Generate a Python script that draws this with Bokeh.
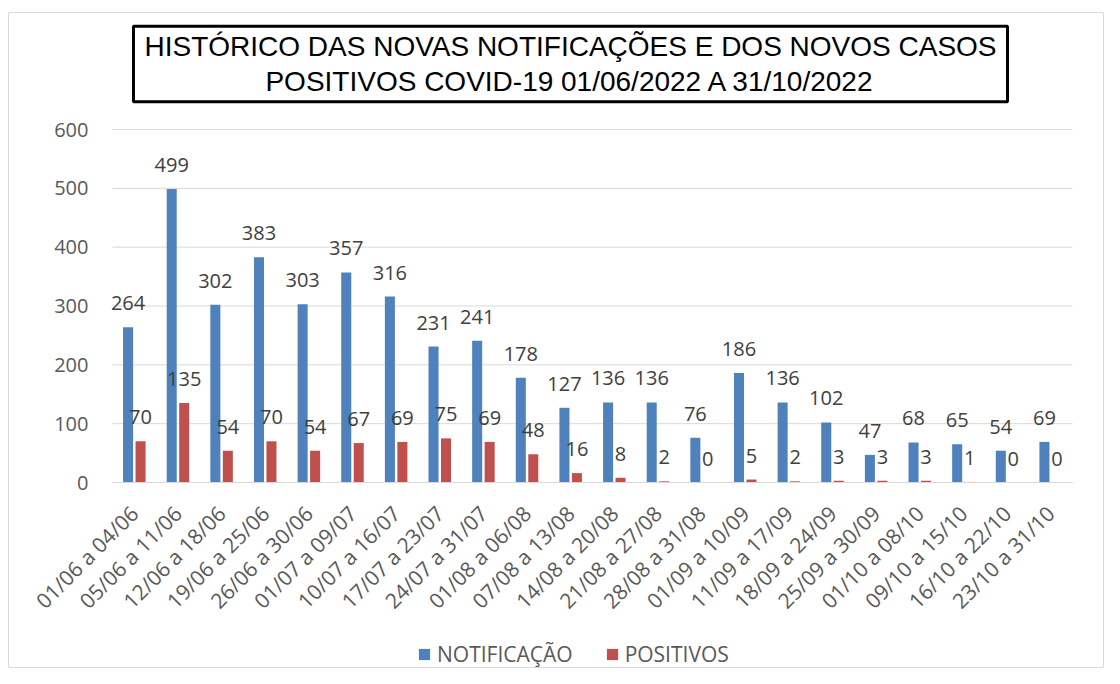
from bokeh.plotting import figure
from bokeh.models import (ColumnDataSource, Range1d, FixedTicker, LabelSet,
                          Label, Legend, LegendItem)
from bokeh.core.properties import value
from bokeh.transform import dodge
from bokeh.embed import file_html
from bokeh.resources import INLINE
import math

categories = ["01/06 a 04/06", "05/06 a 11/06", "12/06 a 18/06", "19/06 a 25/06",
              "26/06 a 30/06", "01/07 a 09/07", "10/07 a 16/07", "17/07 a 23/07",
              "24/07 a 31/07", "01/08 a 06/08", "07/08 a 13/08", "14/08 a 20/08",
              "21/08 a 27/08", "28/08 a 31/08", "01/09 a 10/09", "11/09 a 17/09",
              "18/09 a 24/09", "25/09 a 30/09", "01/10 a 08/10", "09/10 a 15/10",
              "16/10 a 22/10", "23/10 a 31/10"]
notificacao = [264, 499, 302, 383, 303, 357, 316, 231, 241, 178, 127, 136, 136, 76,
               186, 136, 102, 47, 68, 65, 54, 69]
positivos = [70, 135, 54, 70, 54, 67, 69, 75, 69, 48, 16, 8, 2, 0,
             5, 2, 3, 3, 3, 1, 0, 0]
y_ticks = [0, 100, 200, 300, 400, 500, 600]
title_text = "HISTÓRICO DAS NOVAS NOTIFICAÇÕES E DOS NOVOS CASOS\nPOSITIVOS COVID-19 01/06/2022 A 31/10/2022"

BLUE = "#4F81BD"
RED = "#C0504D"
FONT = "Open Sans"

# layout in pixels
W, H = 1104, 668
FRAME_L, FRAME_R, FRAME_T, FRAME_B = 8, W, 12, H
PLOT_L, PLOT_R = 112, 1072
Y600_PX, Y0_PX = 129, 482

n = len(categories)
idx = list(range(n))
cat_px = (PLOT_R - PLOT_L) / n
x_start = -0.5 - (PLOT_L - FRAME_L) / cat_px
x_end = (n - 0.5) + (FRAME_R - PLOT_R) / cat_px
px_per_unit = (Y0_PX - Y600_PX) / max(y_ticks)
y_max = (Y0_PX - FRAME_T) / px_per_unit
y_min = -(FRAME_B - Y0_PX) / px_per_unit

src = ColumnDataSource(dict(
    idx=idx,
    notif=notificacao,
    pos=positivos,
    notif_txt=[str(v) for v in notificacao],
    pos_txt=[str(v) for v in positivos],
))

p = figure(x_range=Range1d(x_start, x_end), y_range=Range1d(y_min, y_max),
           width=W, height=H, output_backend="svg", toolbar_location=None,
           min_border_left=FRAME_L, min_border_right=W - FRAME_R,
           min_border_top=FRAME_T, min_border_bottom=H - FRAME_B)

# horizontal gridlines over the category area
p.segment(x0=-0.5, x1=n - 0.5, y0=y_ticks, y1=y_ticks, line_color="#d9d9d9",
          line_width=1)

off = 0.143
bw = 0.23
r1 = p.vbar(x=dodge("idx", -off), top="notif", width=bw, source=src,
            fill_color=BLUE, line_color=None)
r2 = p.vbar(x=dodge("idx", off), top="pos", width=bw, source=src,
            fill_color=RED, line_color=None)

for col, txt, o in (("notif", "notif_txt", -off), ("pos", "pos_txt", off)):
    ls = LabelSet(x=dodge("idx", o), y=col, text=txt, source=src,
                  text_align="center", text_baseline="alphabetic", y_offset=17,
                  text_font=value(FONT), text_font_size="20px", text_color="#404040")
    p.add_layout(ls)

p.outline_line_color = "#d9d9d9"
p.xgrid.visible = False
p.ygrid.visible = False

p.yaxis.fixed_location = -0.5
p.yaxis.ticker = FixedTicker(ticks=y_ticks)
p.yaxis.axis_line_color = None
p.yaxis.major_tick_line_color = None
p.yaxis.major_tick_out = 0
p.yaxis.major_tick_in = 0
p.yaxis.minor_tick_line_color = None
p.yaxis.major_label_standoff = 24
p.yaxis.major_label_text_font = FONT
p.yaxis.major_label_text_font_size = "20px"
p.yaxis.major_label_text_color = "#595959"

p.xaxis.fixed_location = 0
p.xaxis.bounds = (-0.5, n - 0.5)
p.xaxis.ticker = FixedTicker(ticks=idx)
p.xaxis.major_label_overrides = {i: c for i, c in zip(idx, categories)}
p.xaxis.axis_line_color = "#d9d9d9"
p.xaxis.major_tick_line_color = None
p.xaxis.major_tick_out = 0
p.xaxis.major_tick_in = 0
p.xaxis.minor_tick_line_color = None
p.xaxis.major_label_orientation = math.pi / 4
p.xaxis.major_label_standoff = 27
p.xaxis.major_label_text_font = FONT
p.xaxis.major_label_text_font_size = "21px"
p.xaxis.major_label_text_color = "#595959"

title = Label(x=570 - FRAME_L, y=FRAME_B - 63.5,
              x_units="screen", y_units="screen",
              text=title_text, text_align="center", text_baseline="middle",
              text_font="Liberation Sans", text_font_size="28px",
              text_color="black", text_line_height=1.12,
              border_line_color="black", border_line_width=3,
              background_fill_color="white", padding=(11, 5))
p.add_layout(title)

legend = Legend(items=[LegendItem(label="NOTIFICAÇÃO", renderers=[r1]),
                       LegendItem(label="POSITIVOS", renderers=[r2])],
                orientation="horizontal", location=(417 - FRAME_L, 0),
                border_line_color=None, background_fill_alpha=0,
                glyph_width=14, glyph_height=14, label_standoff=6, spacing=32,
                padding=0, margin=0, label_text_font=FONT,
                label_text_font_size="21px", label_text_color="#595959")
p.add_layout(legend)

open("out.html", "w").write(file_html(p, INLINE))
